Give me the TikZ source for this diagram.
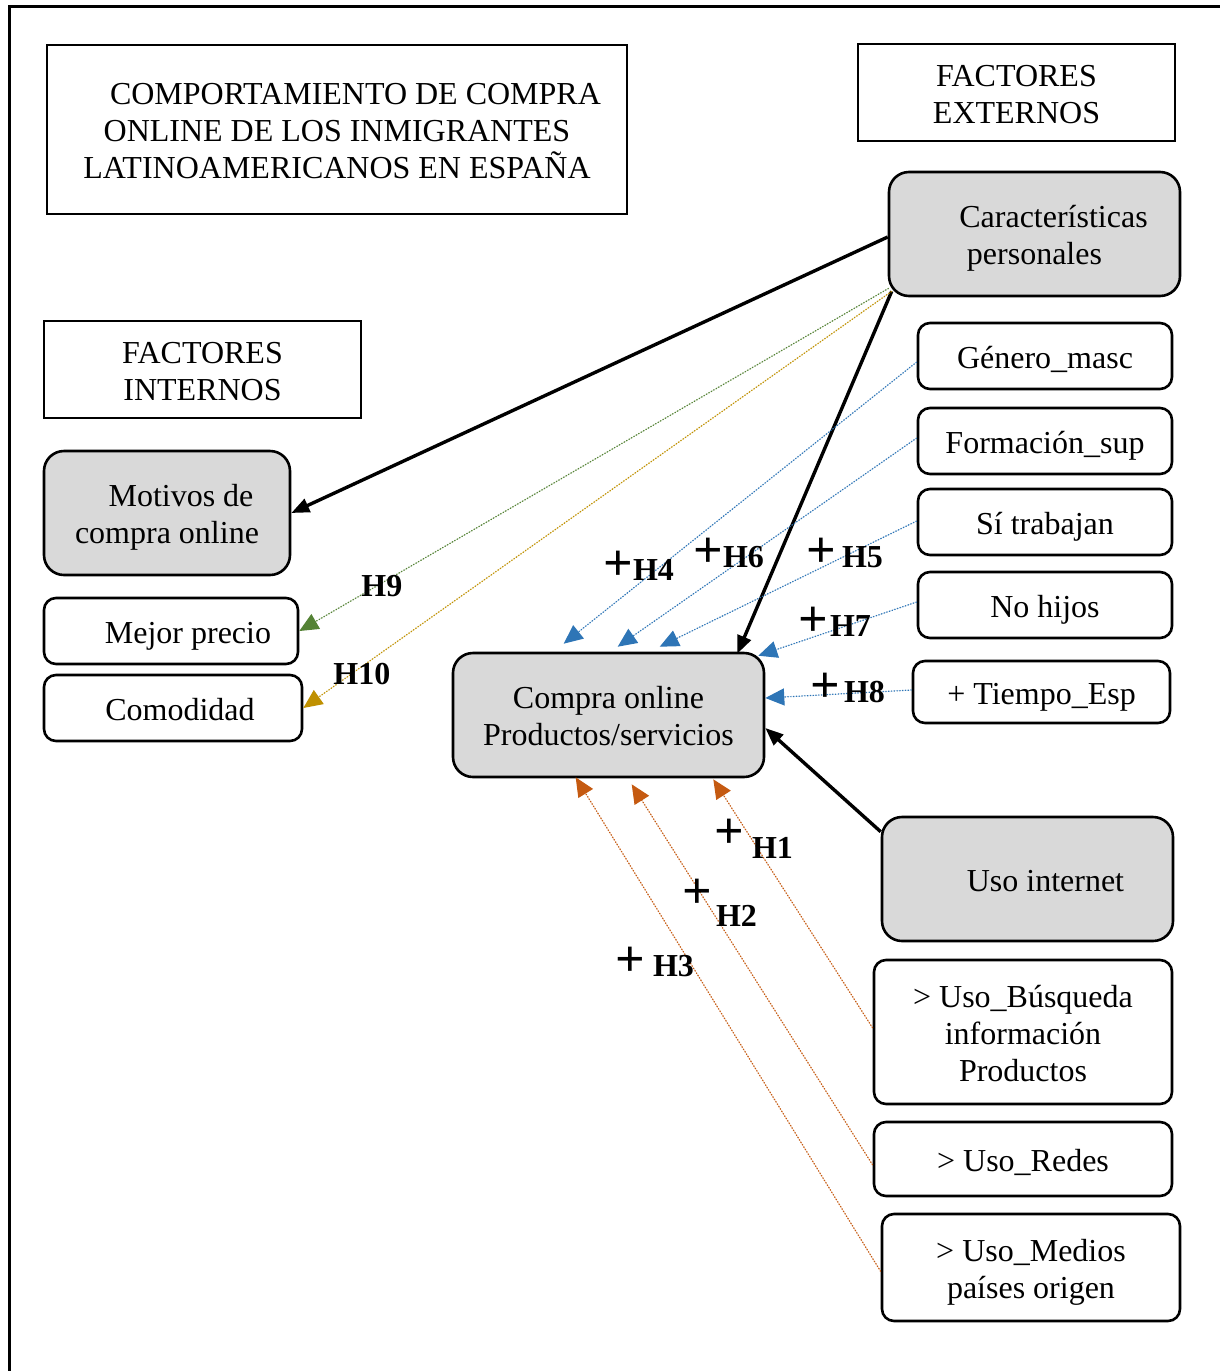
\documentclass[tikz,border=0pt]{standalone}
\usepackage{fontspec}
\setmainfont{Liberation Serif}
\usetikzlibrary{arrows.meta,calc}
\definecolor{boxgray}{HTML}{D9D9D9}
\definecolor{hblue}{HTML}{2E75B6}
\definecolor{horange}{HTML}{C55A11}
\definecolor{hgreen}{HTML}{548235}
\definecolor{hgold}{HTML}{BF9000}
\newcommand{\bigplus}{{\fontsize{26}{26}\selectfont +}}
\newcommand{\tstrut}{\rule{0pt}{15.5pt}}
\newcommand{\bstrut}{\rule[-3.4pt]{0pt}{0pt}}
\tikzset{
  base/.style={draw=black, line width=1.3pt, align=center, inner sep=0pt,
    font=\fontsize{16}{18.5}\selectfont},
  sqbox/.style={base},
  wbox/.style={base, rounded corners=6pt, fill=white},
  gbox/.style={base, rounded corners=10pt, fill=boxgray},
  solidarr/.style={line width=1.7pt, -{Triangle[length=9pt,width=7pt]}},
  dotarr/.style={line width=0.6pt, dash pattern=on 0.6pt off 0.8pt,
    -{Triangle[length=9.5pt,width=8.5pt]}},
  hlab/.style={anchor=base west, inner sep=0pt, font=\fontsize{16}{18.5}\selectfont\bfseries}
}
\begin{document}
\begin{tikzpicture}[x=0.5pt,y=-0.5pt]
\useasboundingbox (0,0) rectangle (1220,1371);
\draw[line width=1.5pt] (1220,6) -- (9,6) -- (9,1371);

\node[sqbox, minimum width=290pt, minimum height=84.5pt] (title) at (337,129.5)
  {\tstrut\hspace*{18.5pt}COMPORTAMIENTO DE COMPRA\\ONLINE DE LOS INMIGRANTES\\LATINOAMERICANOS EN ESPAÑA\bstrut};
\node[sqbox, minimum width=158.5pt, minimum height=48.5pt] (ext) at (1016.5,92.5) {\tstrut FACTORES\\EXTERNOS\bstrut};
\node[gbox, minimum width=145.5pt, minimum height=62pt] (car) at (1034.5,234)
  {\tstrut\hspace*{19pt}Características\\personales\bstrut};
\node[sqbox, minimum width=158.5pt, minimum height=48.5pt] (int) at (202.5,369.5) {\tstrut FACTORES\\INTERNOS\bstrut};
\node[gbox, minimum width=123pt, minimum height=62pt] (mot) at (167,513)
  {\tstrut\hspace*{14pt}Motivos de\\compra online\bstrut};
\node[wbox, minimum width=127pt, minimum height=33pt] (mej) at (171,631) {\tstrut\hspace*{17pt}Mejor precio\bstrut};
\node[wbox, minimum width=129pt, minimum height=33pt] (com) at (173,708) {\tstrut\hspace*{7pt}Comodidad\bstrut};
\node[gbox, minimum width=155.5pt, minimum height=62pt] (cp) at (608.5,715) {\tstrut Compra online\\Productos/servicios\bstrut};
\node[wbox, minimum width=127pt, minimum height=33pt] (gen) at (1045,356) {\tstrut Género\_masc\bstrut};
\node[wbox, minimum width=127pt, minimum height=33pt] (form) at (1045,441) {\tstrut Formación\_sup\bstrut};
\node[wbox, minimum width=127pt, minimum height=33pt] (si) at (1045,522) {\tstrut Sí trabajan\bstrut};
\node[wbox, minimum width=127pt, minimum height=33pt] (nh) at (1045,605) {\tstrut No hijos\bstrut};
\node[wbox, minimum width=128.5pt, minimum height=31pt] (tie) at (1041.5,692) {\tstrut + Tiempo\_Esp\bstrut};
\node[gbox, minimum width=145.5pt, minimum height=62pt] (ui) at (1027.5,879) {\tstrut\hspace*{18pt}Uso internet\bstrut};
\node[wbox, minimum width=149pt, minimum height=72pt] (bus) at (1023,1032)
  {\tstrut > Uso\_Búsqueda\\información\\Productos\bstrut};
\node[wbox, minimum width=149pt, minimum height=37pt] (red) at (1023,1159) {\tstrut > Uso\_Redes\bstrut};
\node[wbox, minimum width=149pt, minimum height=53.5pt] (med) at (1031,1267.5) {\tstrut > Uso\_Medios\\países origen\bstrut};

% solid arrows
\draw[solidarr] ($(car.west)+(0,3)$) -- (mot.east);
\draw[solidarr] ($(car.south west)+(4,-6)$) -- ($(cp.north east)+(-28,2)$);
\draw[solidarr] ($(ui.north west)+(0,16)$) -- ($(cp.east)+(0,13)$);

% internal factors
\draw[dotarr, draw=hgreen, fill=hgreen] ($(car.south west)+(1,-9)$) -- (mej.east);
\draw[dotarr, draw=hgold, fill=hgold] ($(car.south west)+(4,-6)$) -- (com.east);

% external factors
\draw[dotarr, draw=hblue, fill=hblue] ($(gen.west)+(0,6)$) -- ($(cp.north west)+(112,-8)$);
\draw[dotarr, draw=hblue, fill=hblue] ($(form.west)+(0,-3)$) -- ($(cp.north west)+(166,-5)$);
\draw[dotarr, draw=hblue, fill=hblue] ($(si.west)+(0,-1)$) -- ($(cp.north west)+(208,-5)$);
\draw[dotarr, draw=hblue, fill=hblue] ($(nh.west)+(0,-3)$) -- ($(cp.north east)+(-7,4)$);
\draw[dotarr, draw=hblue, fill=hblue] ($(tie.west)+(0,-2)$) -- ($(cp.east)+(0,-17)$);

% internet use
\draw[dotarr, draw=horange, fill=horange] ($(bus.west)+(0,-4)$) -- ($(cp.south east)+(-52,1)$);
\draw[dotarr, draw=horange, fill=horange] ($(red.west)+(0,6)$) -- ($(cp.south west)+(180,6)$);
\draw[dotarr, draw=horange, fill=horange] ($(med.west)+(0,4)$) -- ($(cp.south west)+(124,-1)$);

% labels
\node[hlab] (h4) at (603,580) {\bigplus\hspace{0pt}H4};
\node[hlab] (h6) at (693,567) {\bigplus\hspace{0pt}H6};
\node[hlab] (h5) at (806,567) {\bigplus\hspace{3pt}H5};
\node[hlab] (h7) at (798,636) {\bigplus\hspace{1pt}H7};
\node[hlab] (h8) at (810,702) {\bigplus\hspace{2pt}H8};
\node[hlab] (h9) at (361,596) {H9};
\node[hlab] (h10) at (333,684) {H10};
\node[hlab] (h1) at (714,858) {\raisebox{5pt}{\bigplus}\hspace{4pt}H1};
\node[hlab] (h2) at (682,926) {\raisebox{9pt}{\bigplus}\hspace{2pt}H2};
\node[hlab] (h3) at (615,976) {\bigplus\hspace{4pt}H3};
\end{tikzpicture}
\end{document}
